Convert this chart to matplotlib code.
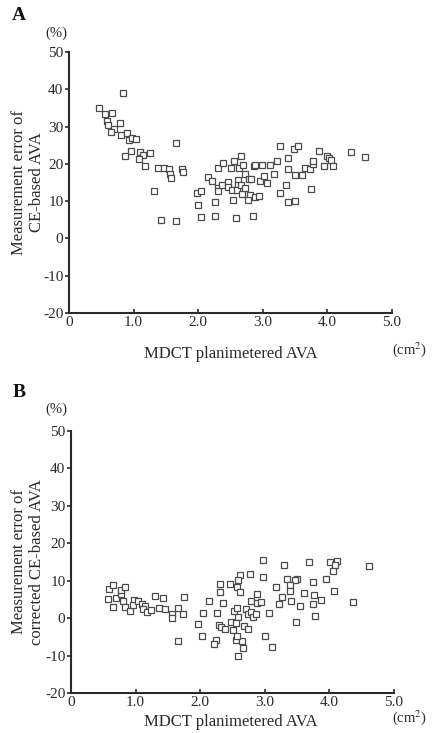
import matplotlib
matplotlib.use("Agg")
import matplotlib.pyplot as plt

plt.rcParams['font.family'] = ['Liberation Serif', 'DejaVu Serif']
plt.rcParams['mathtext.fontset'] = 'stix'

# panel A: measurement error of CE-based AVA vs MDCT planimetered AVA
ava_a = [0.46, 0.55, 0.67, 0.59, 0.61, 0.70, 0.645, 0.79, 0.80, 0.90, 0.93, 0.98, 1.04,
         0.96, 0.86, 1.10, 1.14, 1.09, 1.25, 1.17, 1.37, 1.47, 1.55, 1.57, 1.58, 1.65,
         1.75, 1.76, 1.31, 1.43, 1.66, 1.98, 2.05, 1.99, 2.05, 2.26, 2.26, 2.15, 2.22,
         2.31, 2.39, 2.58, 2.85, 2.31, 2.30, 2.37, 2.46, 2.46, 2.52, 2.54, 2.51, 2.55,
         2.63, 2.67, 2.70, 2.61, 2.61, 2.60, 2.67, 2.68, 2.73, 2.73, 2.78, 2.82, 2.80,
         2.77, 2.88, 2.94, 2.87, 2.88, 2.98, 2.95, 3.02, 3.07, 3.11, 3.18, 3.22, 3.26,
         3.39, 3.39, 3.36, 3.26, 3.39, 3.50, 3.48, 3.55, 3.50, 3.61, 3.65, 3.73, 3.77,
         3.78, 3.74, 3.87, 3.94, 3.99, 4.02, 4.06, 4.08, 4.37, 4.58, 0.836]
err_a = [35.1, 33.4, 33.6, 31.6, 30.5, 29.3, 28.6, 30.9, 27.7, 28.4, 26.3, 27.0, 26.6,
         23.5, 22.0, 23.1, 22.3, 21.4, 22.9, 19.3, 18.8, 19.0, 18.5, 17.2, 16.3, 25.7,
         18.5, 17.8, 12.7, 5.0, 4.6, 12.3, 12.7, 8.9, 5.8, 6.0, 9.8, 16.6, 15.3,
         18.8, 20.1, 5.5, 5.9, 13.5, 12.8, 14.3, 15.1, 13.9, 12.9, 10.2, 19.0, 20.7,
         18.8, 22.2, 19.8, 15.6, 14.3, 12.9, 14.3, 11.8, 13.5, 17.2, 15.9, 15.9, 11.6,
         10.2, 11.1, 11.4, 19.3, 19.8, 19.6, 15.5, 16.8, 14.9, 19.8, 17.2, 20.8, 24.7,
         21.5, 18.5, 14.4, 12.1, 9.8, 10.1, 24.0, 24.9, 17.1, 17.1, 19.0, 18.5, 19.9,
         20.9, 13.2, 23.4, 19.5, 22.1, 21.6, 21.0, 19.3, 23.1, 21.9, 39.0]

# panel B: measurement error after correction
ava_b = [2.97, 3.29, 3.68, 4.01, 4.11, 4.08, 4.05, 4.61,
         2.62, 2.77, 2.97, 3.35, 3.50, 3.46, 3.39, 3.39, 3.74, 3.94, 4.07, 4.37,
         2.58, 2.31, 2.46, 2.57, 2.30, 2.61, 3.18, 2.88, 1.75, 2.14, 2.36, 2.79,
         2.88, 2.94, 3.26, 3.22, 3.40, 3.61, 3.76, 3.74, 3.87, 3.55, 1.74, 2.05,
         2.26, 2.52, 2.57, 2.71, 2.74, 2.78, 2.82, 2.87, 2.58, 3.06, 3.77, 3.49,
         1.96, 2.29, 2.32, 2.39, 2.47, 2.50, 2.55, 2.68, 2.74, 2.03, 2.25, 2.22,
         2.55, 2.65, 2.57, 2.67, 2.59, 3.01, 3.11,
         0.59, 0.65, 0.57, 0.65, 0.70, 0.78, 0.78, 0.83, 0.80, 0.84, 0.92, 0.97,
         0.96, 1.03, 1.10, 1.15, 1.11, 1.17, 1.24, 1.30, 1.42, 1.36, 1.46, 1.56,
         1.56, 1.65, 1.65]
err_b = [15.5, 14.1, 15.1, 15.1, 15.2, 14.1, 12.6, 13.8,
         11.6, 11.8, 10.9, 10.5, 10.5, 10.1, 8.8, 7.3, 9.7, 10.4, 7.2, 4.2,
         10.2, 9.0, 9.0, 8.2, 6.9, 7.0, 8.3, 6.5, 5.7, 4.7, 4.0, 4.7,
         4.1, 4.3, 5.6, 3.9, 4.7, 6.6, 6.2, 3.9, 4.8, 3.2, 1.0, 1.3,
         1.3, 1.8, 2.6, 2.4, 1.2, 1.6, 0.3, 1.0, 0.3, 1.3, 0.5, -1.0,
         -1.6, -1.8, -2.3, -2.9, -1.1, -3.2, -1.3, -2.1, -3.0, -4.9, -5.8, -7.0,
         -5.9, -6.0, -4.7, -7.9, -10.2, -4.9, -7.7,
         7.8, 8.8, 5.0, 3.0, 5.5, 6.4, 7.5, 8.4, 4.7, 3.1, 2.0, 4.8,
         3.4, 4.6, 3.7, 3.3, 2.4, 1.6, 2.1, 6.0, 5.5, 2.6, 2.4, 1.0,
         0.1, 2.8, -6.1]

xticks = [0, 1, 2, 3, 4, 5]
xtick_labels = ['0', '1.0', '2.0', '3.0', '4.0', '5.0']
yticks = [-20, -10, 0, 10, 20, 30, 40, 50]
ytick_labels = ['-20', '-10', '0', '10', '20', '30', '40', '50']

ink = '#2a2a2a'
W, H = 433, 733

fig = plt.figure(figsize=(W / 100, H / 100), dpi=100)


def panel(rect, x, y, letter, ylabel, ytop, xlab_y, cm_y):
    ax = fig.add_axes(rect)
    ax.plot(x, y, ls='none', marker='s', ms=4.6, mfc='white', mec='#4a4a4a', mew=0.9,
            clip_on=False)
    ax.set_xlim(0, 5)
    ax.set_ylim(-20, 50)
    ax.set_xticks(xticks)
    ax.set_xticklabels(xtick_labels)
    ax.set_yticks(yticks)
    ax.set_yticklabels(ytick_labels)
    for s in ['top', 'right']:
        ax.spines[s].set_visible(False)
    for s in ['left', 'bottom']:
        ax.spines[s].set_linewidth(1.5)
        ax.spines[s].set_color(ink)
    ax.tick_params(axis='y', direction='out', length=3, width=1.2, pad=1,
                   labelsize=11, colors=ink)
    ax.tick_params(axis='x', direction='in', length=3, width=1.2, pad=2,
                   labelsize=11, colors=ink)
    # panel letter, units and axis titles
    fig.text(19 / W, 1 - ytop / H, letter, fontsize=14, fontweight='bold',
             ha='center', va='center', color='#111')
    fig.text(56 / W, 1 - (ytop + 17) / H, '(%)', fontsize=10.5, ha='center',
             va='center', color=ink)
    fig.text(28 / W, rect[1] + rect[3] * 0.5, ylabel, rotation=90, fontsize=12,
             ha='center', va='center', multialignment='center', linespacing=1.15,
             color=ink)
    fig.text(231 / W, 1 - xlab_y / H, 'MDCT planimetered AVA', fontsize=12,
             ha='center', va='center', color=ink)
    fig.text(410 / W, 1 - cm_y / H, '(cm$^2$)', fontsize=10.5, ha='center',
             va='center', color=ink)
    return ax


panel([69 / W, 1 - 313 / H, 323 / W, 261 / H], ava_a, err_a, 'A',
      'Measurement error of\nCE-based AVA', 16, 354, 350)
panel([71 / W, 1 - 693 / H, 323 / W, 262 / H], ava_b, err_b, 'B',
      'Measurement error of\ncorrected CE-based AVA', 392, 722, 718)

fig.savefig('out.png', dpi=100)
